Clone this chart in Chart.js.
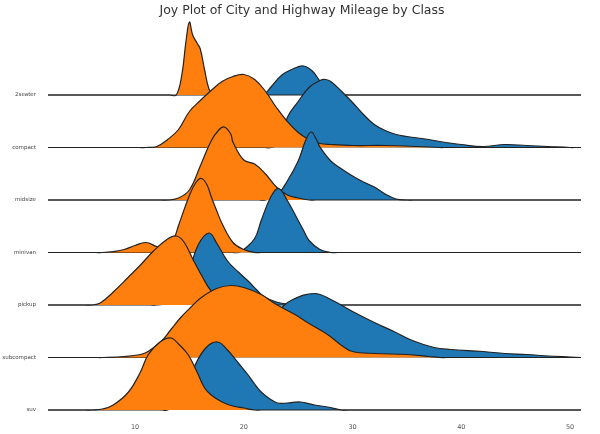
<!DOCTYPE html>
<html><head><meta charset="utf-8">
<script src="https://cdn.jsdelivr.net/npm/chart.js@4"></script>
<style>html,body{margin:0;padding:0;background:#fff}#c{display:block}</style>
</head><body>
<div style="width:600px;height:434px"><canvas id="c"></canvas></div>
<script>
const classes = ['2seater','compact','midsize','minivan','pickup','subcompact','suv'];
const xTicks = [10,20,30,40,50];
// density heights (row gap = 52.5 units), x = mileage
const ctyX = {
 '2seater':[13.8,14.3,14.7,15,15.3,15.7,16,16.4,16.8,17.2],
 compact:[11,12,13,14,15,16,17,18,19,20,21,22,23,24,25,26,27,28,30,33,36,38],
 midsize:[13,14,15,16,17,17.7,18.2,18.8,19,20,21,22,23,24,25,26],
 minivan:[7,8,9,10,11,12,12.7,13.5,14,15,15.6,16.1,16.6,17,17.5,18,19,20,21],
 pickup:[6,6.8,8,9.4,10.5,11.7,13,13.8,14.5,15.4,16.2,17,18,19,20],
 subcompact:[7,9,10.5,11.2,12.4,13.3,14.2,15.2,16.1,17.5,18.8,20,21.6,23,24.7,26,27.7,29,30,32,35,37,38],
 suv:[6,7,8,9.4,10.5,11.2,12.3,13.3,14,14.9,15.7,16.4,17,18,19,20,21]
};
const ctyY = {
 '2seater':[0,20,55,73,60,52,46,25,6,0],
 compact:[0,1,8,18,36,47,57,66,71,73,68,56,40,26,15,8,4,3,2,2,1,0],
 midsize:[0,2,10,34,59,70,73,66,58,40,36,26,13,5,2,0],
 minivan:[0,1,3,7,10,6,4,12,27,57,70,74,68,56,42,29,10,3,0],
 pickup:[0,2,13,28,40,54,66,69,63,44,28,14,5,1,0],
 subcompact:[0,1,3,6,16,28,40,51,60,69,72,70,63,53,43,34,23,12,6,4,3,1,0],
 suv:[0,1,5,18,38,55,68,72,66,55,38,22,15,8,4,2,0]
};
const hwyX = {
 '2seater':[21.8,22.5,23.5,24.5,25.5,26.3,27,27.8,28.5],
 compact:[22.5,23.5,24,25,26,27,27.5,28,29,30,31,32,33,34,35,37,38,40,42,44,46,48,50],
 midsize:[22,23,24,25,25.7,26.2,26.7,27,28,29,30,31,32,33,34,35],
 minivan:[19.5,20,21,21.6,22.5,23.2,24,25,25.5,26,27,28],
 pickup:[12,13,14,15,15.8,16.8,17.5,18.5,19.5,20.4,21.2,21.9,23,24,26],
 subcompact:[13,15,17,19,21,23,24.5,26.5,28,30,32,33.8,35.5,37.5,39,42,44,46,48,50,51],
 suv:[13,14,15,15.4,16.5,17.6,18.5,19.5,20.4,21,21.6,22.4,23.1,24,25.2,26.5,27.7,29]
};
const hwyY = {
 '2seater':[0,8,20,26,29,24,14,5,0],
 compact:[0,5,30,46,60,67,68,66,56,45,33,23,17,13,11,8,6,3,1,3,2,1,0],
 midsize:[0,4,19,39,60,68,60,53,39,31,24,18,13,6,1,0],
 minivan:[0,3,14,32,56,64,52,32,22,12,3,0],
 pickup:[0,2,12,35,60,72,62,44,33,24,15,8,3,1,0],
 subcompact:[0,4,10,20,32,46,58,64,58,46,35,26,17,10,8,6,4,3,1.5,0.5,0],
 suv:[0,8,28,42,62,68,60,47,35,26,18,11,7,7,8,5,3,0]
};
const X_MIN = 2, X_MAX = 51, GAP = 52.5;
const ORANGE = '#ff7f0e', BLUE = '#1f77b4';

function pts(xs, ys, base){
  const p = [{x:X_MIN,y:base}];
  const a = xs[0]-0.6, b = xs[xs.length-1]+0.6;
  if (a > X_MIN) p.push({x:a,y:base});
  xs.forEach((x,i)=>p.push({x:x,y:base+ys[i]}));
  if (b < X_MAX) p.push({x:b,y:base});
  if (xs[xs.length-1] < X_MAX) p.push({x:X_MAX,y:base});
  return p;
}
const drawOrder = [];
classes.forEach((c,i)=>{
  const base = (classes.length-1-i)*GAP;
  drawOrder.push({label:c+' hwy',data:pts(hwyX[c],hwyY[c],base),backgroundColor:BLUE,fill:{value:base}});
  drawOrder.push({label:c+' cty',data:pts(ctyX[c],ctyY[c],base),backgroundColor:ORANGE,fill:{value:base}});
});
const datasets = drawOrder.reverse().map(d=>Object.assign(d,{
  borderColor:'#222',borderWidth:1.2,pointRadius:0,tension:0.4
}));

const titlePlugin = {id:'t',afterDraw(ch){
  const g=ch.ctx; g.save(); g.fillStyle='#333'; g.font='12.5px "DejaVu Sans"';
  g.textAlign='center'; g.textBaseline='middle';
  g.fillText('Joy Plot of City and Highway Mileage by Class',302,11); g.restore();
}};

new Chart(document.getElementById('c'),{
  type:'line',
  data:{datasets},
  plugins:[titlePlugin],
  options:{
    responsive:true,maintainAspectRatio:false,animation:false,
    layout:{padding:{top:16,right:19,left:0,bottom:0}},
    plugins:{legend:{display:false},tooltip:{enabled:false},title:{display:false}},
    scales:{
      x:{type:'linear',min:X_MIN,max:X_MAX,
        grid:{display:false},border:{display:false},
        afterBuildTicks(ax){ax.ticks=xTicks.map(v=>({value:v}));},
        afterFit(ax){ax.height=21;},
        ticks:{font:{size:6.5,family:'DejaVu Sans'},color:'#555',padding:2,maxRotation:0}},
      y:{type:'linear',min:-3,max:394,
        grid:{display:false},border:{display:false},
        afterBuildTicks(ax){ax.ticks=classes.map((c,i)=>({value:(classes.length-1-i)*GAP}));},
        afterFit(ax){ax.width=48;},
        ticks:{font:{size:5.5,family:'DejaVu Sans'},color:'#444',padding:4,
          callback:(v)=>classes[classes.length-1-Math.round(v/GAP)]}}
    }
  }
});
</script></body></html>
